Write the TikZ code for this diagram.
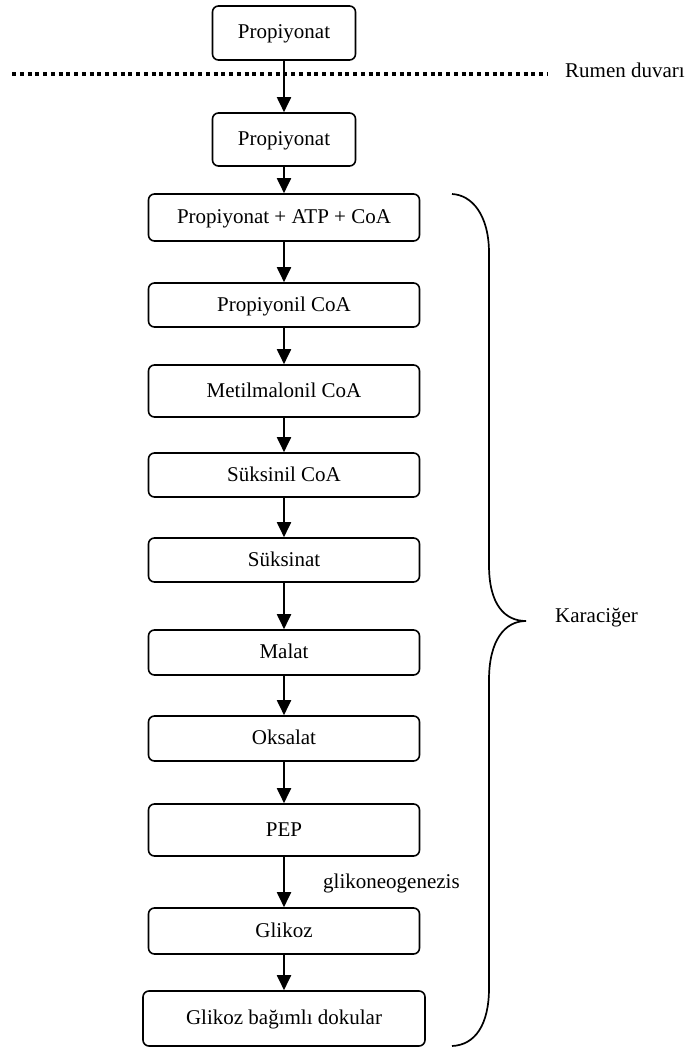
\documentclass[tikz,border=0pt]{standalone}
\usepackage{fontspec}
\setmainfont{Liberation Serif}
\usetikzlibrary{arrows.meta}
\begin{document}
\begin{tikzpicture}[x=1pt,y=-1pt,
  box/.style={draw, line width=1.6pt, rounded corners=6pt, inner sep=0pt,
    text height=14pt, text depth=2pt, align=center},
  arr/.style={line width=1.9pt, -{Triangle[length=15pt,width=14pt]}},
  lbl/.style={inner sep=0pt},
  every node/.style={font=\fontsize{21}{25}\selectfont}]
\useasboundingbox (0,0) rectangle (685,1048);
\node[box, minimum width=143pt, minimum height=54pt] (b1) at (284,33) {Propiyonat};
\node[box, minimum width=143pt, minimum height=53pt] (b2) at (284,139.5) {Propiyonat};
\node[box, minimum width=271pt, minimum height=47pt] (b3) at (284,217.5) {Propiyonat + ATP + CoA};
\node[box, minimum width=271pt, minimum height=44pt] (b4) at (284,305) {Propiyonil CoA};
\node[box, minimum width=271pt, minimum height=52pt] (b5) at (284,391) {Metilmalonil CoA};
\node[box, minimum width=271pt, minimum height=44pt] (b6) at (284,475) {Süksinil CoA};
\node[box, minimum width=271pt, minimum height=44pt] (b7) at (284,560) {Süksinat};
\node[box, minimum width=271pt, minimum height=45pt] (b8) at (284,652.5) {Malat};
\node[box, minimum width=271pt, minimum height=45pt] (b9) at (284,738.5) {Oksalat};
\node[box, minimum width=271pt, minimum height=52pt] (b10) at (284,830) {PEP};
\node[box, minimum width=271pt, minimum height=46pt] (b11) at (284,931) {Glikoz};
\node[box, minimum width=282pt, minimum height=55pt] (b12) at (284,1018.5) {Glikoz bağımlı dokular};

\foreach \a/\b in {b1/b2,b2/b3,b3/b4,b4/b5,b5/b6,b6/b7,b7/b8,b8/b9,b9/b10,b10/b11,b11/b12}
  \draw[arr] (\a.south) -- (\b.north);

% rumen wall
\coordinate (d0) at (12,74);
\coordinate (d1) at (548,74);
\draw[line width=3.5pt, dash pattern=on 4pt off 3.75pt] (d0) -- (d1);
\node[lbl, anchor=base west] (rumen) at (565,78) {Rumen duvarı};

% label
\node[lbl, anchor=base west] (glk) at (323,888) {glikoneogenezis};

% brace
\coordinate (bt) at (452,194);
\coordinate (tip) at (526,621);
\coordinate (bb) at (452,1046);
\draw[line width=1.7pt] (bt) .. controls (472,195) and (489,215) .. (489,253)
  -- (489,565) .. controls (489,605) and (505,621) .. (tip)
  .. controls (505,621) and (489,640) .. (489,680)
  -- (489,988) .. controls (489,1025) and (475,1045) .. (bb);
\node[lbl, anchor=base west] (kar) at (555,622) {Karaciğer};
\end{tikzpicture}
\end{document}
